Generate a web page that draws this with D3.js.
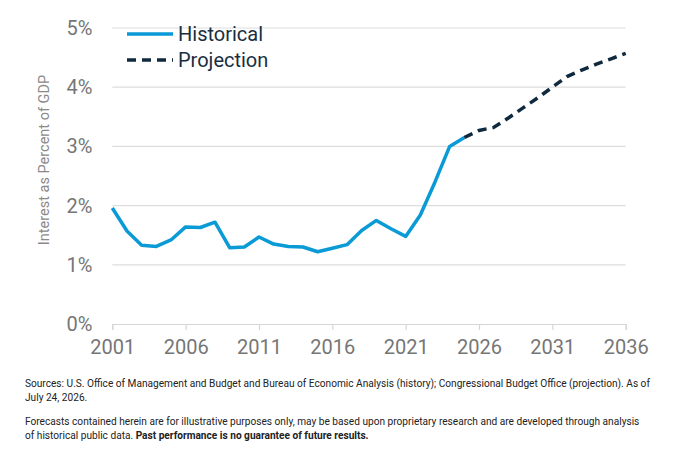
<!DOCTYPE html>
<html><head><meta charset="utf-8">
<script src="https://cdn.jsdelivr.net/npm/d3@7"></script>
<style>
html,body{margin:0;padding:0;background:#fff;}
svg{display:block;}
</style></head>
<body>
<svg id="chart" width="682" height="456"></svg>
<script>
const histYears = [2001,2002,2003,2004,2005,2006,2007,2008,2009,2010,2011,2012,2013,2014,2015,2016,2017,2018,2019,2020,2021,2022,2023,2024,2025];
const histValues = [1.96,1.57,1.33,1.31,1.42,1.64,1.63,1.72,1.29,1.30,1.47,1.35,1.31,1.30,1.22,1.28,1.34,1.58,1.75,1.61,1.48,1.84,2.40,3.00,3.15];
const projYears = [2025,2026,2027,2028,2029,2030,2031,2032,2033,2034,2035,2036];
const projValues = [3.15,3.27,3.32,3.48,3.65,3.82,4.00,4.18,4.29,4.39,4.48,4.57];
const xTicks = [2001,2006,2011,2016,2021,2026,2031,2036];
const yTicks = [0,1,2,3,4,5];
const legendLabels = ["Historical","Projection"];
const yTitle = "Interest as Percent of GDP";
const footLines = [
  "Sources: U.S. Office of Management and Budget and Bureau of Economic Analysis (history); Congressional Budget Office (projection). As of",
  "July 24, 2026."
];
const foot2a = "Forecasts contained herein are for illustrative purposes only, may be based upon proprietary research and are developed through analysis";
const foot2b = "of historical public data. ";
const foot2bold = "Past performance is no guarantee of future results.";

const svg = d3.select("#chart");
const x = d3.scaleLinear().domain([2001,2036]).range([112.3,625.7]);
const y = d3.scaleLinear().domain([0,5]).range([324,28]);
const font = "Roboto, 'Liberation Sans', sans-serif";

// gridlines
svg.append("g").selectAll("line").data(yTicks.filter(d=>d>0)).join("line")
  .attr("x1",x(2001)).attr("x2",x(2036))
  .attr("y1",d=>y(d)).attr("y2",d=>y(d))
  .attr("stroke","#dddddd").attr("stroke-width",1.2);

// x axis
const xAxis = svg.append("g").attr("transform",`translate(0,${y(0)})`)
  .call(d3.axisBottom(x).tickValues(xTicks).tickFormat(d3.format("d")).tickSize(6).tickPadding(10));
xAxis.select(".domain").attr("stroke","#d6d6d6").attr("stroke-width",1.2);
xAxis.selectAll(".tick line").attr("stroke","#d6d6d6").attr("stroke-width",1.2);
xAxis.selectAll("text").attr("fill","#767676").style("font-size","20px").style("font-family",font);

// y axis labels
const yAxis = svg.append("g").attr("transform",`translate(${x(2001)},0)`)
  .call(d3.axisLeft(y).tickValues(yTicks).tickFormat(d=>d+"%").tickSize(0).tickPadding(20));
yAxis.select(".domain").remove();
yAxis.selectAll("text").attr("fill","#767676").style("font-size","20px").style("font-family",font);

svg.append("text").attr("transform","translate(49,160) rotate(-90)")
  .attr("text-anchor","middle").attr("fill","#8a8a8a")
  .style("font-size","14.5px").style("font-family",font).text(yTitle);

// lines
const line = d3.line().x(d=>x(d[0])).y(d=>y(d[1]));
svg.append("path").datum(histYears.map((d,i)=>[d,histValues[i]]))
  .attr("d",line).attr("fill","none").attr("stroke","#0a9ad6")
  .attr("stroke-width",3.5).attr("stroke-linejoin","round");
svg.append("path").datum(projYears.map((d,i)=>[d,projValues[i]]))
  .attr("d",line).attr("fill","none").attr("stroke","#0f2a3f")
  .attr("stroke-width",3.5).attr("stroke-dasharray","9,6");

// legend
const lg = svg.append("g");
lg.append("line").attr("x1",127).attr("x2",173).attr("y1",34).attr("y2",34)
  .attr("stroke","#0a9ad6").attr("stroke-width",3.5);
lg.append("line").attr("x1",127).attr("x2",173).attr("y1",60).attr("y2",60)
  .attr("stroke","#0f2a3f").attr("stroke-width",3.5).attr("stroke-dasharray","9,6");
lg.selectAll("text").data(legendLabels).join("text")
  .attr("x",178).attr("y",(d,i)=>34+26*i+7)
  .attr("fill","#1a2e42").style("font-size","20px").style("font-family",font).text(d=>d);

// footer
const ft = svg.append("g").style("font-family",font).style("font-size","10.15px").attr("fill","#222");
ft.selectAll("text.s").data(footLines).join("text").attr("class","s")
  .attr("x",25).attr("y",(d,i)=>387+13.5*i).text(d=>d);
ft.append("text").attr("x",25).attr("y",425).text(foot2a);
const t = ft.append("text").attr("x",25).attr("y",438.5);
t.append("tspan").text(foot2b);
t.append("tspan").attr("font-weight","bold").text(foot2bold);
</script>
</body></html>
